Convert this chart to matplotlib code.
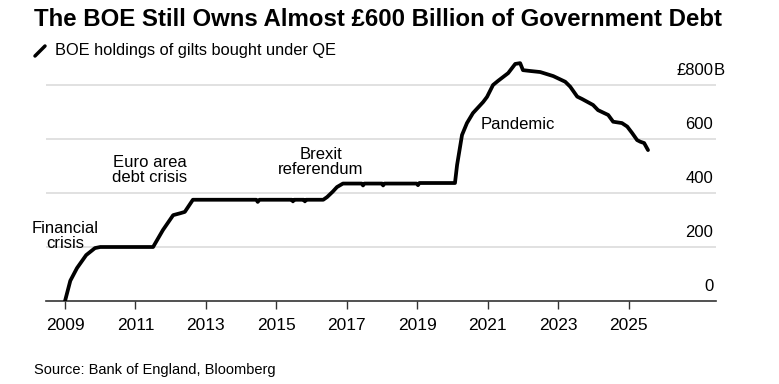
import matplotlib

matplotlib.use('Agg')
import matplotlib.pyplot as plt
from matplotlib.lines import Line2D

plt.rcParams['font.family'] = ['Liberation Sans', 'DejaVu Sans']

# data: BOE gilt holdings (£B), x in decimal years
years = [2009.0, 2009.15, 2009.34, 2009.6, 2009.85, 2010.0, 2011.5, 2011.78, 2012.07, 2012.27,
         2012.4, 2012.63, 2014.43, 2014.47, 2014.52, 2015.44, 2015.47, 2015.5, 2015.78, 2015.81,
         2015.84, 2016.33, 2016.44, 2016.6, 2016.72, 2016.89, 2017.42, 2017.46, 2017.5,
         2018.0, 2018.03, 2018.07, 2018.98, 2019.02, 2019.06, 2020.07, 2020.13, 2020.27,
         2020.41, 2020.58, 2020.87, 2020.98, 2021.15, 2021.29, 2021.44, 2021.58, 2021.78,
         2021.92, 2022.0, 2022.2, 2022.49, 2022.86, 2023.2, 2023.34, 2023.54, 2023.68,
         2023.99, 2024.13, 2024.42, 2024.56, 2024.81, 2024.96, 2025.1, 2025.24, 2025.33,
         2025.44, 2025.55]
holdings = [0, 75, 122, 170, 196, 200, 200, 263, 318, 325,
            330, 375, 375, 367, 375, 375, 369, 375, 375, 369,
            375, 375, 385, 405, 422, 435, 435, 428, 435,
            435, 428, 435, 435, 429, 437, 437, 504, 615,
            659, 696, 737, 756, 800, 815, 830, 844, 878,
            881, 855, 852, 848, 833, 812, 794, 757, 748,
            726, 707, 689, 664, 659, 646, 622, 596, 590,
            585, 559]

year_ticks = [2009, 2011, 2013, 2015, 2017, 2019, 2021, 2023, 2025]
y_ticks = [0, 200, 400, 600, 800]

annotations = [
    ('Financial\ncrisis', 2009.0, 240),
    ('Euro area\ndebt crisis', 2011.41, 485),
    ('Brexit\nreferendum', 2016.27, 515),
]

fig = plt.figure(figsize=(7.79, 3.84), dpi=100)
W, H = 779, 384
x0, x1 = 46, 716
ytop, ybot = 60.7, 301
ax = fig.add_axes([x0 / W, 1 - ybot / H, (x1 - x0) / W, (ybot - ytop) / H])

xmin, xmax = 2008.46, 2027.48
ax.set_xlim(xmin, xmax)
ax.set_ylim(0, 890)

for v in y_ticks[1:]:
    ax.axhline(v, color='#dcdcdc', lw=1.2, zorder=1)

ax.plot(years, holdings, color='black', lw=2.7, solid_joinstyle='round',
        solid_capstyle='round', zorder=3)

# right-hand value labels, sitting above the gridlines
lab_x = 2027.4
for v in y_ticks:
    if v == 800:
        ax.text(lab_x, v + 52, '£800', ha='right', va='center', fontsize=12)
        ax.text(lab_x, v + 52, 'B', ha='left', va='center', fontsize=12)
    else:
        ax.text(lab_x, v + 52, str(v), ha='right', va='center', fontsize=12)

for s in ['top', 'right', 'left']:
    ax.spines[s].set_visible(False)
ax.spines['bottom'].set_color('#333333')
ax.spines['bottom'].set_linewidth(1.2)
ax.set_yticks([])
ax.set_xticks(year_ticks)
ax.set_xticklabels([str(y) for y in year_ticks], fontsize=12.5)
ax.tick_params(axis='x', length=6, width=1, color='#333333', pad=6)

for txt, x, y in annotations:
    ax.text(x, y, txt, ha='center', va='center', fontsize=12, linespacing=1.05)
ax.text(2020.81, 655, 'Pandemic', ha='left', va='center', fontsize=12)

fig.text(34 / W, 1 - 19 / H, 'The BOE Still Owns Almost £600 Billion of Government Debt',
         ha='left', va='center', fontsize=17.3, fontweight='bold')
fig.add_artist(Line2D([35 / W, 45 / W], [1 - 56 / H, 1 - 46 / H], color='black', lw=2.5,
                      solid_capstyle='round'))
fig.text(55 / W, 1 - 51 / H, 'BOE holdings of gilts bought under QE', ha='left', va='center',
         fontsize=11.8)
fig.text(34 / W, 1 - 370 / H, 'Source: Bank of England, Bloomberg', ha='left', va='center',
         fontsize=10.5)

fig.savefig('out.png', dpi=100)
